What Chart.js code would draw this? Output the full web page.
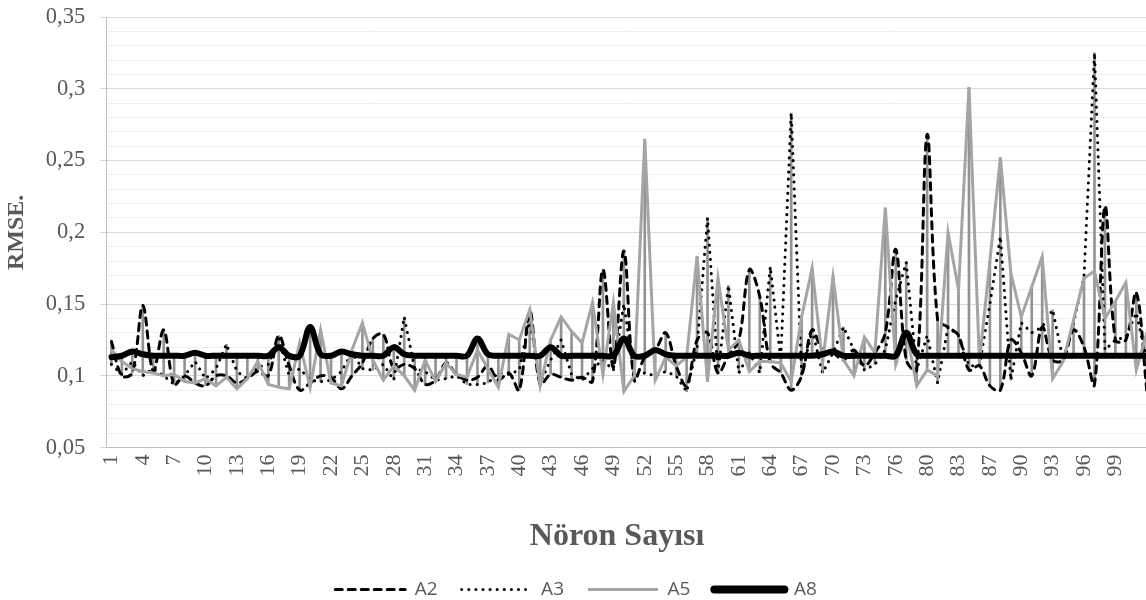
<!DOCTYPE html>
<html>
<head>
<meta charset="utf-8">
<script src="https://cdn.jsdelivr.net/npm/chart.js@4.4.1/dist/chart.umd.min.js"></script>
<style>
  html, body { margin: 0; padding: 0; background: #fff; overflow: hidden; }
  #wrap { width: 1152px; height: 600px; position: relative; }
</style>
</head>
<body>
<div id="wrap"><canvas id="chart"></canvas></div>
<script>
// Category labels (Nöron Sayısı) - two numbers are missing from the run in the source
const neuronCounts = [
  1, 2, 3, 4, 5, 6, 7, 8, 9, 10, 11, 12, 13, 14, 15, 16, 17, 18, 19, 20,
  21, 22, 23, 24, 25, 26, 27, 28, 29, 30, 31, 32, 33, 34, 35, 36, 37, 38, 39, 40,
  41, 42, 43, 44, 45, 46, 47, 48, 49, 50, 51, 52, 53, 54, 55, 56, 57, 58, 59, 60,
  61, 62, 63, 64, 65, 66, 67, 68, 69, 70, 71, 72, 73, 74, 75, 76, 77, 79, 80, 81,
  82, 83, 84, 86, 87, 88, 89, 90, 91, 92, 93, 94, 95, 96, 97, 98, 99, 100, 101, 102
];

const a2 = [
  0.124, 0.100, 0.102, 0.149, 0.103, 0.132, 0.094, 0.100, 0.095, 0.093,
  0.100, 0.100, 0.095, 0.098, 0.103, 0.100, 0.128, 0.107, 0.090, 0.095,
  0.100, 0.099, 0.091, 0.100, 0.109, 0.126, 0.129, 0.105, 0.108, 0.105,
  0.094, 0.097, 0.109, 0.101, 0.097, 0.099, 0.107, 0.097, 0.102, 0.090,
  0.145, 0.094, 0.101, 0.099, 0.097, 0.099, 0.096, 0.174, 0.106, 0.187,
  0.097, 0.113, 0.118, 0.130, 0.107, 0.093, 0.125, 0.130, 0.102, 0.114,
  0.125, 0.174, 0.155, 0.109, 0.102, 0.090, 0.100, 0.132, 0.118, 0.116,
  0.111, 0.118, 0.107, 0.116, 0.130, 0.188, 0.111, 0.104, 0.268, 0.139,
  0.134, 0.128, 0.104, 0.107, 0.093, 0.090, 0.125, 0.116, 0.100, 0.134,
  0.111, 0.111, 0.132, 0.120, 0.094, 0.218, 0.125, 0.125, 0.158, 0.090
];

const a3 = [
  0.108, 0.101, 0.110, 0.100, 0.105, 0.100, 0.094, 0.100, 0.110, 0.098,
  0.105, 0.122, 0.103, 0.098, 0.106, 0.108, 0.126, 0.100, 0.105, 0.097,
  0.096, 0.097, 0.103, 0.116, 0.105, 0.104, 0.108, 0.097, 0.141, 0.105,
  0.103, 0.097, 0.098, 0.100, 0.094, 0.094, 0.095, 0.102, 0.101, 0.104,
  0.140, 0.095, 0.111, 0.125, 0.101, 0.097, 0.105, 0.111, 0.104, 0.150,
  0.100, 0.102, 0.100, 0.103, 0.100, 0.089, 0.120, 0.210, 0.102, 0.163,
  0.102, 0.116, 0.102, 0.176, 0.111, 0.283, 0.100, 0.132, 0.102, 0.116,
  0.134, 0.118, 0.104, 0.108, 0.118, 0.153, 0.179, 0.104, 0.128, 0.095,
  0.134, 0.128, 0.107, 0.107, 0.150, 0.197, 0.097, 0.137, 0.130, 0.134,
  0.146, 0.111, 0.137, 0.169, 0.325, 0.118, 0.125, 0.127, 0.144, 0.111
];

const a5 = [
  0.118, 0.110, 0.105, 0.103, 0.102, 0.100, 0.101, 0.096, 0.095, 0.098,
  0.093, 0.099, 0.091, 0.098, 0.110, 0.094, 0.092, 0.091, 0.123, 0.092,
  0.132, 0.095, 0.093, 0.118, 0.137, 0.111, 0.097, 0.107, 0.100, 0.090,
  0.111, 0.096, 0.109, 0.101, 0.099, 0.118, 0.105, 0.092, 0.129, 0.125,
  0.146, 0.093, 0.125, 0.141, 0.131, 0.123, 0.151, 0.101, 0.151, 0.089,
  0.100, 0.265, 0.097, 0.113, 0.107, 0.113, 0.183, 0.096, 0.168, 0.118,
  0.125, 0.103, 0.110, 0.110, 0.109, 0.096, 0.141, 0.175, 0.109, 0.169,
  0.111, 0.100, 0.127, 0.116, 0.217, 0.108, 0.132, 0.093, 0.104, 0.100,
  0.200, 0.160, 0.301, 0.110, 0.180, 0.252, 0.172, 0.141, 0.162, 0.183,
  0.098, 0.110, 0.139, 0.168, 0.173, 0.140, 0.152, 0.165, 0.104, 0.130
];

const a8 = [
  0.113, 0.114, 0.117, 0.115, 0.114, 0.114, 0.114, 0.114, 0.116, 0.114,
  0.114, 0.114, 0.114, 0.114, 0.114, 0.114, 0.120, 0.114, 0.114, 0.134,
  0.115, 0.114, 0.117, 0.115, 0.114, 0.114, 0.114, 0.120, 0.115, 0.114,
  0.114, 0.114, 0.114, 0.114, 0.114, 0.126, 0.115, 0.114, 0.114, 0.114,
  0.114, 0.114, 0.120, 0.114, 0.114, 0.114, 0.114, 0.114, 0.114, 0.126,
  0.114, 0.114, 0.118, 0.115, 0.114, 0.114, 0.114, 0.114, 0.114, 0.114,
  0.116, 0.114, 0.114, 0.114, 0.114, 0.114, 0.114, 0.114, 0.115, 0.117,
  0.114, 0.114, 0.114, 0.114, 0.114, 0.114, 0.130, 0.115, 0.114, 0.114,
  0.114, 0.114, 0.114, 0.114, 0.114, 0.114, 0.114, 0.114, 0.114, 0.114,
  0.114, 0.114, 0.114, 0.114, 0.114, 0.114, 0.114, 0.114, 0.114, 0.114
];

const yTickValues = [0.05, 0.1, 0.15, 0.2, 0.25, 0.3, 0.35];

// high-low lines: span of the four series at each category
const highLow = neuronCounts.map((_, i) => {
  const vals = [a2[i], a3[i], a5[i], a8[i]];
  return [Math.min(...vals), Math.max(...vals)];
});

const serif = "'Liberation Serif', 'Times New Roman', serif";
const textGray = '#595959';

function isMajor(v) {
  return yTickValues.some(t => Math.abs(t - v) < 1e-6);
}

const ctx = document.getElementById('chart');
new Chart(ctx, {
  type: 'line',
  data: {
    labels: neuronCounts,
    datasets: [{
      label: 'A2',
      data: a2,
      borderColor: '#000',
      backgroundColor: '#000',
      borderWidth: 3,
      borderDash: [7, 6],
      borderCapStyle: 'round',
      tension: 0.35,
      pointRadius: 0,
      order: 4
    }, {
      label: 'A3',
      data: a3,
      borderColor: '#000',
      backgroundColor: '#000',
      borderWidth: 3,
      borderDash: [0.1, 7],
      borderCapStyle: 'round',
      tension: 0,
      pointRadius: 0,
      order: 3
    }, {
      label: 'A5',
      data: a5,
      borderColor: '#a5a5a5',
      backgroundColor: '#a5a5a5',
      borderWidth: 3,
      tension: 0,
      pointRadius: 0,
      order: 2
    }, {
      label: 'A8',
      data: a8,
      borderColor: '#000',
      backgroundColor: '#000',
      borderWidth: 6,
      borderCapStyle: 'round',
      tension: 0.35,
      pointRadius: 0,
      order: 1
    }, {
      type: 'bar',
      label: 'hilo',
      data: highLow,
      backgroundColor: '#939393',
      barThickness: 2,
      order: 5
    }]
  },
  options: {
    responsive: true,
    maintainAspectRatio: false,
    animation: false,
    layout: { padding: { top: 0, left: 0, right: 0, bottom: -9 } },
    plugins: {
      tooltip: { enabled: false },
      legend: {
        position: 'bottom',
        labels: {
          usePointStyle: true,
          pointStyle: 'line',
          pointStyleWidth: 70,
          padding: 24,
          color: textGray,
          font: { family: "'Open Sans', sans-serif", size: 19 },
          // point-style legend items lose the dataset dash, so copy it back
          generateLabels: chart => Chart.defaults.plugins.legend.labels.generateLabels(chart).map(item => {
            const ds = chart.data.datasets[item.datasetIndex];
            item.lineDash = ds.borderDash || [];
            item.lineCap = ds.borderCapStyle || 'butt';
            item.lineWidth = ds.label === 'A8' ? 8 : ds.borderWidth;
            return item;
          }),
          filter: item => item.text !== 'hilo',
          sort: (a, b) => a.datasetIndex - b.datasetIndex
        }
      }
    },
    scales: {
      x: {
        offset: true,
        grid: { display: false, drawTicks: false },
        border: { color: '#bfbfbf' },
        afterFit: scale => { scale.paddingRight = 0; },
        ticks: {
          autoSkip: false,
          minRotation: 90,
          maxRotation: 90,
          padding: 7,
          color: textGray,
          font: { family: serif, size: 22 },
          callback: function (value, index) {
            return index % 3 === 0 && index < 99 ? this.getLabelForValue(value) : '';
          }
        },
        title: {
          display: true,
          // trailing spaces pull the centred title a little left, as in the source
          text: 'Nöron Sayısı\u00a0\u00a0\u00a0',
          color: textGray,
          font: { family: serif, size: 32, weight: 'bold' },
          padding: { top: 34, bottom: 0 }
        }
      },
      y: {
        min: 0.05,
        max: 0.35,
        border: { color: '#bfbfbf' },
        afterFit: scale => { scale.paddingTop = 17; },
        grid: {
          color: c => isMajor(c.tick.value) ? '#d9d9d9' : '#efefef',
          tickColor: c => isMajor(c.tick.value) ? '#d9d9d9' : 'rgba(0,0,0,0)',
          tickLength: 6
        },
        ticks: {
          stepSize: 0.01,
          maxTicksLimit: 40,
          autoSkip: false,
          padding: 15,
          color: textGray,
          font: { family: serif, size: 22.5 },
          callback: v => isMajor(v) ? String(Math.round(v * 100) / 100).replace('.', ',') : ''
        },
        title: {
          display: true,
          text: 'RMSE.',
          color: textGray,
          font: { family: serif, size: 24, weight: 'bold' },
          padding: { top: 2, bottom: 0 }
        }
      }
    }
  }
});
</script>
</body>
</html>
